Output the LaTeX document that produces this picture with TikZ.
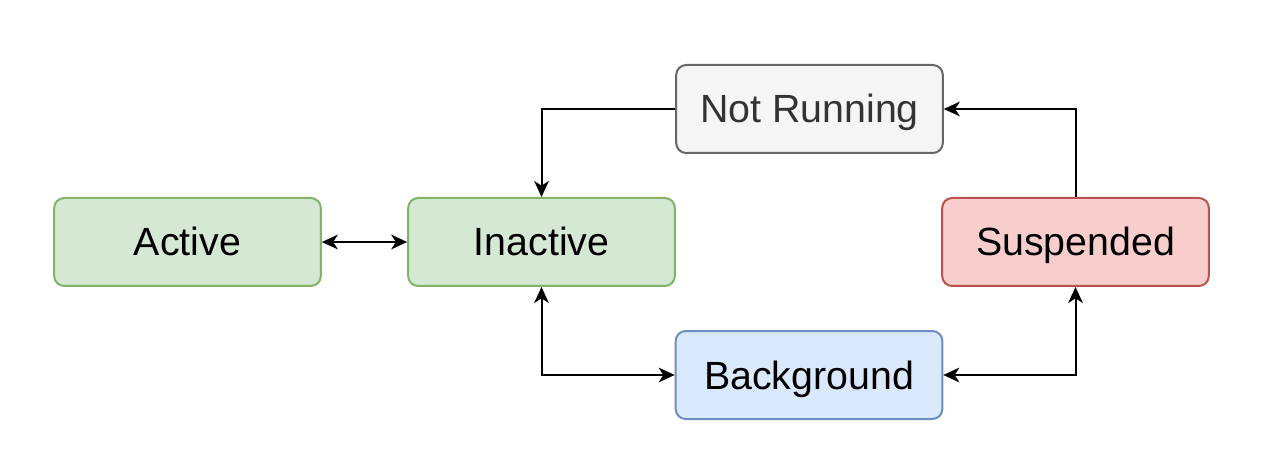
\documentclass[tikz,border=0pt]{standalone}
\usepackage{fontspec}
\setmainfont{Liberation Sans}
\usetikzlibrary{arrows.meta}
\definecolor{gfill}{HTML}{D5E8D4}
\definecolor{gline}{HTML}{82B366}
\definecolor{nfill}{HTML}{F5F5F5}
\definecolor{nline}{HTML}{666666}
\definecolor{ntext}{HTML}{333333}
\definecolor{rfill}{HTML}{F8CECC}
\definecolor{rline}{HTML}{B85450}
\definecolor{bfill}{HTML}{DAE8FC}
\definecolor{bline}{HTML}{6C8EBF}
\tikzset{
  box/.style={rectangle, rounded corners=7.5pt, line width=1.5pt, minimum width=200pt, minimum height=66pt, inner sep=0pt, text height=21pt, text depth=0pt, font=\fontsize{29.5}{35}\selectfont},
  greenbox/.style={box, fill=gfill, draw=gline},
  greybox/.style={box, fill=nfill, draw=nline, text=ntext},
  redbox/.style={box, fill=rfill, draw=rline},
  bluebox/.style={box, fill=bfill, draw=bline},
  conn/.style={line width=1.5pt, -{Stealth[length=12pt, width=11pt, inset=3.5pt]}},
  conn2/.style={line width=1.5pt, {Stealth[length=12pt, width=11pt, inset=3.5pt]}-{Stealth[length=12pt, width=11pt, inset=3.5pt]}}
}
\begin{document}
\begin{tikzpicture}[x=0.75pt, y=-0.75pt]
\useasboundingbox (0,0) rectangle (1280,466);
\node[greybox] (nr) at (809.5,109) {Not Running};
\node[greenbox] (act) at (187.5,242) {Active};
\node[greenbox] (inact) at (541.5,242) {Inactive};
\node[redbox] (susp) at (1075.5,242) {Suspended};
\node[bluebox] (bg) at (809,375) {Background};
\draw[conn] (nr.west) -| (inact.north);
\draw[conn] (susp.north) |- (nr.east);
\draw[conn2] (act.east) -- (inact.west);
\draw[conn2] (inact.south) |- (bg.west);
\draw[conn2] (bg.east) -| (susp.south);
\end{tikzpicture}
\end{document}
